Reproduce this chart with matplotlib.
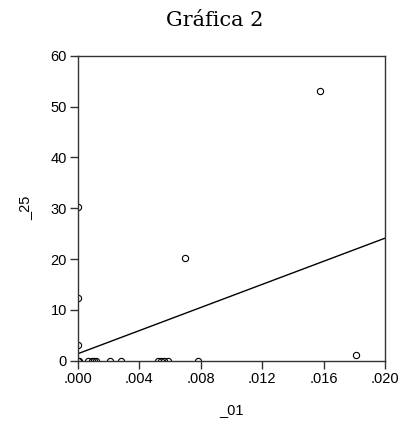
import numpy as np
import matplotlib
matplotlib.use("Agg")
import matplotlib.pyplot as plt

# valeurs
x_01 = [0.0, 0.0, 0.0, 0.0, 0.00697, 0.0158, 0.0181,
        0.00008, 0.00067, 0.00089, 0.00105, 0.00120, 0.0021, 0.0028,
        0.0052, 0.0054, 0.0056, 0.0059, 0.0078]
y_25 = [30.3, 12.3, 3.2, 0.0, 20.3, 53.1, 1.1,
        0.0, 0.0, 0.0, 0.0, 0.0, 0.0, 0.0,
        0.0, 0.0, 0.0, 0.0, 0.0]

# droite de régression
fit_intercept = 1.4
fit_slope = 1135.0

xticks = [0.0, 0.004, 0.008, 0.012, 0.016, 0.020]
xtick_labels = [".000", ".004", ".008", ".012", ".016", ".020"]
yticks = [0, 10, 20, 30, 40, 50, 60]

fig = plt.figure(figsize=(4.06, 4.28), dpi=100)
ax = fig.add_axes([0.192, 0.157, 0.756, 0.713])

ax.plot(x_01, y_25, "o", markersize=4.5, markerfacecolor="none",
        markeredgecolor="black", markeredgewidth=0.8)

xl = np.array([0.0, 0.020])
ax.plot(xl, fit_intercept + fit_slope * xl, color="black", linewidth=1)

ax.set_xlim(0, 0.020)
ax.set_ylim(0, 60)
ax.set_xticks(xticks)
ax.set_xticklabels(xtick_labels)
ax.set_yticks(yticks)

for s in ax.spines.values():
    s.set_color("#333333")
    s.set_linewidth(1)

ax.tick_params(direction="out", length=6, width=1, color="#333333",
               labelsize=10.5, pad=2)
for lab in ax.get_xticklabels() + ax.get_yticklabels():
    lab.set_family("Liberation Sans")

ax.set_xlabel("_01", fontsize=10.5, family="Liberation Sans", labelpad=12)
ax.set_ylabel("_25", fontsize=10.5, family="Liberation Sans", labelpad=13)

fig.text(0.53, 0.952, "Gráfica 2", ha="center", va="center",
         fontsize=15, family="DejaVu Serif")

plt.savefig("out.png", dpi=100)
plt.close()
